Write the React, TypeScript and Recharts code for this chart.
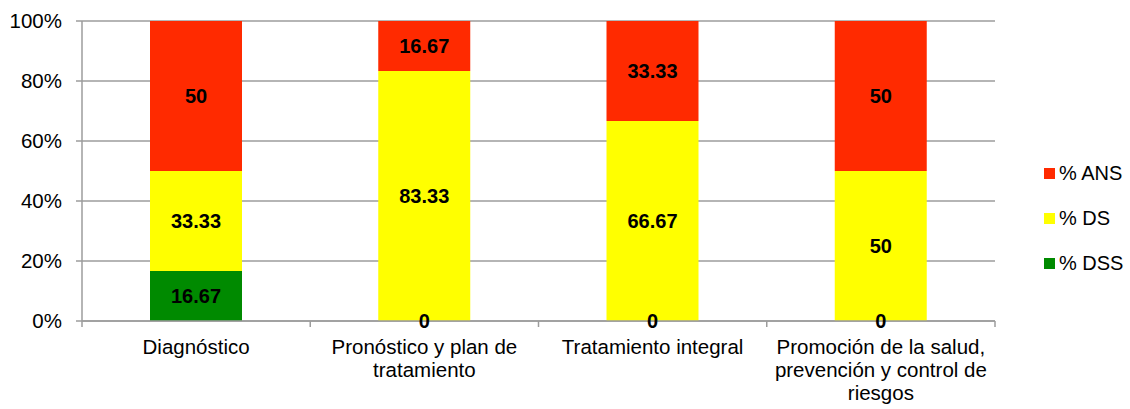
import React from 'react';
import { BarChart, Bar, XAxis, YAxis, CartesianGrid, LabelList } from 'recharts';

const categories = [
  'Diagnóstico',
  'Pronóstico y plan de tratamiento',
  'Tratamiento integral',
  'Promoción de la salud, prevención y control de riesgos',
];
// tick labels as they wrap in the original
const categoryLines = [
  ['Diagnóstico'],
  ['Pronóstico y plan de', 'tratamiento'],
  ['Tratamiento integral'],
  ['Promoción de la salud,', 'prevención y control de', 'riesgos'],
];
const dss = [16.67, 0, 0, 0];
const ds = [33.33, 83.33, 66.67, 50];
const ans = [50, 16.67, 33.33, 50];
const yTicks = [0, 20, 40, 60, 80, 100];

// bottom of the stack first
const series = [
  { key: 'dss', name: '% DSS', color: '#008a00', values: dss },
  { key: 'ds', name: '% DS', color: '#ffff00', values: ds },
  { key: 'ans', name: '% ANS', color: '#ff2a00', values: ans },
];

const data = categories.map((name, i) => {
  const row: { [k: string]: any } = { name };
  series.forEach((s) => (row[s.key] = s.values[i]));
  return row;
});

const FONT = '"Liberation Sans", Arial, Helvetica, sans-serif';
const GRID = '#9c9c9c';
const BAND = (995 - 82) / categories.length;
const AXIS_Y = 321;

function CategoryTick(props: any) {
  const { x, index } = props;
  const lines = categoryLines[index] || [];
  return (
    <g>
      <line x1={x - BAND / 2} x2={x - BAND / 2} y1={AXIS_Y} y2={AXIS_Y + 6} stroke={GRID} strokeWidth={1.5} />
      {index === categories.length - 1 && (
        <line x1={x + BAND / 2} x2={x + BAND / 2} y1={AXIS_Y} y2={AXIS_Y + 6} stroke={GRID} strokeWidth={1.5} />
      )}
      <text x={x} y={AXIS_Y + 33} textAnchor="middle" fontSize={20.5} fontFamily={FONT} fill="#000">
        {lines.map((l, i) => (
          <tspan key={i} x={x} dy={i === 0 ? 0 : 23}>
            {l}
          </tspan>
        ))}
      </text>
    </g>
  );
}

// "0" labels for empty DSS segments sit on the base of the stack
function ZeroLabel(props: any) {
  const { x, y, width, height, index } = props;
  if (dss[index] !== 0) return null;
  return (
    <text
      x={x + width / 2}
      y={y + height}
      dy="0.36em"
      textAnchor="middle"
      fontSize={20}
      fontWeight="bold"
      fontFamily={FONT}
      fill="#000"
    >
      {dss[index]}
    </text>
  );
}

export default function App() {
  return (
    <div style={{ position: 'absolute', left: 0, top: 0, width: 1130, height: 409, background: '#fff' }}>
      <BarChart
        width={1130}
        height={409}
        data={data}
        margin={{ top: 21, right: 135, bottom: 0, left: 0 }}
        barSize={92}
      >
        <CartesianGrid vertical={false} stroke={GRID} strokeWidth={1.5} />
        <XAxis
          dataKey="name"
          height={88}
          interval={0}
          tickLine={false}
          tick={<CategoryTick />}
          axisLine={{ stroke: GRID, strokeWidth: 1.5 }}
        />
        <YAxis
          width={82}
          domain={[0, 100]}
          ticks={yTicks}
          tickFormatter={(v: number) => `${v}%`}
          tickSize={6}
          tickMargin={14}
          tickLine={{ stroke: GRID, strokeWidth: 1.5 }}
          axisLine={{ stroke: GRID, strokeWidth: 1.5 }}
          tick={{ fill: '#000', fontSize: 20.5, fontFamily: FONT }}
        />
        {series.map((s) => (
          <Bar key={s.key} dataKey={s.key} name={s.name} stackId="a" fill={s.color} isAnimationActive={false}>
            <LabelList
              dataKey={s.key}
              position="center"
              fill="#000"
              fontSize={20}
              fontWeight="bold"
              fontFamily={FONT}
            />
            {s.key === 'ds' && <LabelList dataKey="dss" content={<ZeroLabel />} />}
          </Bar>
        ))}
      </BarChart>
      <div style={{ position: 'absolute', left: 1044, top: 151, fontFamily: FONT, fontSize: 20, color: '#000' }}>
        {[...series].reverse().map((s) => (
          <div key={s.key} style={{ display: 'flex', alignItems: 'center', height: 45 }}>
            <span style={{ display: 'inline-block', width: 11, height: 11, background: s.color, marginRight: 4 }} />
            <span>{s.name}</span>
          </div>
        ))}
      </div>
    </div>
  );
}
